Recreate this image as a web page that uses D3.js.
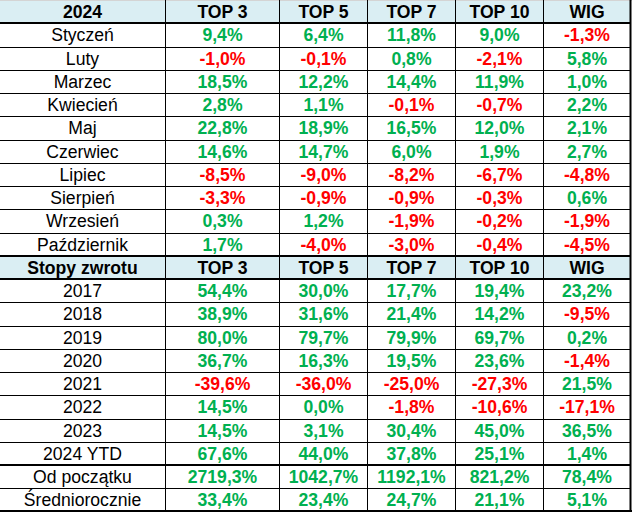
<!DOCTYPE html>
<html>
<head>
<meta charset="utf-8">
<script src="https://cdn.jsdelivr.net/npm/d3@7"></script>
<style>
html,body{margin:0;padding:0;background:#fff;}
svg{display:block;}
</style>
</head>
<body>
<svg id="chart" width="632" height="512"></svg>
<script>
// ---- data ----
const columns = ["TOP 3", "TOP 5", "TOP 7", "TOP 10", "WIG"];
const header1 = "2024";
const header2 = "Stopy zwrotu";

const months = ["Styczeń","Luty","Marzec","Kwiecień","Maj","Czerwiec","Lipiec","Sierpień","Wrzesień","Październik"];
const monthTop3  = [9.4, -1.0, 18.5, 2.8, 22.8, 14.6, -8.5, -3.3, 0.3, 1.7];
const monthTop5  = [6.4, -0.1, 12.2, 1.1, 18.9, 14.7, -9.0, -0.9, 1.2, -4.0];
const monthTop7  = [11.8, 0.8, 14.4, -0.1, 16.5, 6.0, -8.2, -0.9, -1.9, -3.0];
const monthTop10 = [9.0, -2.1, 11.9, -0.7, 12.0, 1.9, -6.7, -0.3, -0.2, -0.4];
const monthWig   = [-1.3, 5.8, 1.0, 2.2, 2.1, 2.7, -4.8, 0.6, -1.9, -4.5];

const years = ["2017","2018","2019","2020","2021","2022","2023","2024 YTD"];
const yearTop3  = [54.4, 38.9, 80.0, 36.7, -39.6, 14.5, 14.5, 67.6];
const yearTop5  = [30.0, 31.6, 79.7, 16.3, -36.0, 0.0, 3.1, 44.0];
const yearTop7  = [17.7, 21.4, 79.9, 19.5, -25.0, -1.8, 30.4, 37.8];
const yearTop10 = [19.4, 14.2, 69.7, 23.6, -27.3, -10.6, 45.0, 25.1];
const yearWig   = [23.2, -9.5, 0.2, -1.4, 21.5, -17.1, 36.5, 1.4];

const summary = ["Od początku", "Średniorocznie"];
const sumTop3  = [2719.3, 33.4];
const sumTop5  = [1042.7, 23.4];
const sumTop7  = [1192.1, 24.7];
const sumTop10 = [821.2, 21.1];
const sumWig   = [78.4, 5.1];

// ---- build table rows ----
const rows = [];
rows.push({type:"header", label:header1, values:columns});
months.forEach((m,i)=>rows.push({type:"data", label:m, values:[monthTop3[i],monthTop5[i],monthTop7[i],monthTop10[i],monthWig[i]]}));
rows.push({type:"header", label:header2, values:columns});
years.forEach((y,i)=>rows.push({type:"data", label:y, values:[yearTop3[i],yearTop5[i],yearTop7[i],yearTop10[i],yearWig[i]]}));
summary.forEach((s,i)=>rows.push({type:"data", label:s, values:[sumTop3[i],sumTop5[i],sumTop7[i],sumTop10[i],sumWig[i]]}));

// ---- layout ----
const W = 632, H = 512;
const colEdges = [0, 165, 279, 367, 455, 543, 630];
const y = d3.scaleBand().domain(d3.range(rows.length)).range([0, 511.5]).padding(0);
const x = d3.scaleOrdinal().domain(d3.range(6)).range(colEdges.slice(0,6));
const xw = i => colEdges[i+1] - colEdges[i];

const svg = d3.select("#chart");
const FONT = "'Liberation Sans', Arial, sans-serif";
const FS = 17.6;
const green = "#00B050", red = "#FF0000";
const fmt = v => d3.format(".1f")(v).replace("−","-").replace(".", ",") + "%";

// header fills
rows.forEach((r,i)=>{
  if(r.type==="header"){
    svg.append("rect").attr("x",0).attr("y",y(i)).attr("width",630).attr("height",y.bandwidth())
      .attr("fill","#DAEEF3");
  }
});

// top gray edge
svg.append("line").attr("x1",0).attr("x2",W).attr("y1",0.5).attr("y2",0.5).attr("stroke","#d4d4d4").attr("stroke-width",1);

// horizontal lines
const thickAfter = new Set([0, 10, 11, 19]);
for(let i=1;i<rows.length;i++){
  const yy = Math.round(y(i));
  const thick = thickAfter.has(i-1);
  svg.append("line").attr("x1",0).attr("x2",631)
    .attr("y1", thick ? yy : yy+0.5).attr("y2", thick ? yy : yy+0.5)
    .attr("stroke","#000").attr("stroke-width", thick ? 2 : 1);
}
// bottom thick
svg.append("line").attr("x1",0).attr("x2",632).attr("y1",511).attr("y2",511).attr("stroke","#000").attr("stroke-width",2);

// vertical lines
for(let c=1;c<6;c++){
  svg.append("line").attr("x1",colEdges[c]+0.5).attr("x2",colEdges[c]+0.5)
    .attr("y1",0).attr("y2",512).attr("stroke","#000").attr("stroke-width",1);
}
svg.append("line").attr("x1",630.5).attr("x2",630.5).attr("y1",0).attr("y2",512).attr("stroke","#000").attr("stroke-width",2);

// text
rows.forEach((r,i)=>{
  const cy = y(i) + y.bandwidth()/2 + 6.6;
  const g = svg.append("g");
  g.append("text").attr("x", x(0) + xw(0)/2).attr("y", cy)
    .attr("text-anchor","middle").attr("font-family",FONT).attr("font-size",FS)
    .attr("font-weight", r.type==="header" ? "bold" : "normal").attr("fill","#000")
    .text(r.label);
  r.values.forEach((v,j)=>{
    const c = j+1;
    const t = g.append("text").attr("x", x(c) + xw(c)/2 + 0.5).attr("y", cy)
      .attr("text-anchor","middle").attr("font-family",FONT).attr("font-size",FS)
      .attr("font-weight","bold");
    if(r.type==="header"){
      t.attr("fill","#000").text(v);
    } else {
      t.attr("fill", v < 0 ? red : green).text(fmt(v));
    }
  });
});
</script>
</body>
</html>
